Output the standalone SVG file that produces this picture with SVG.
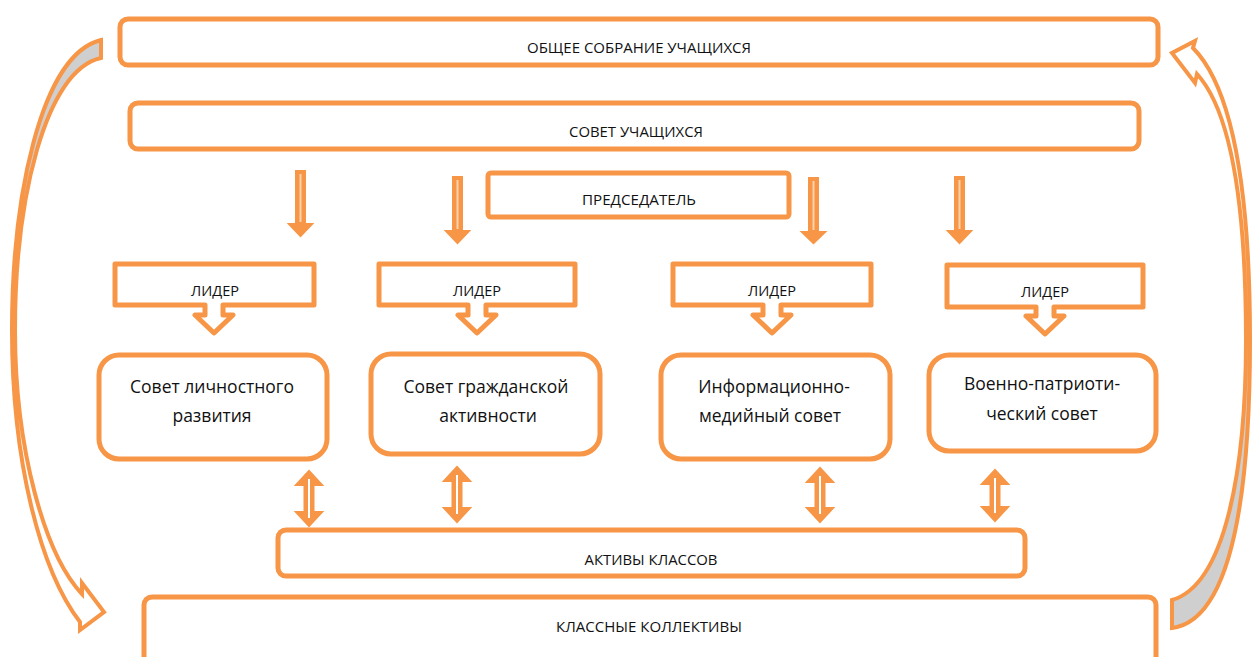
<svg xmlns="http://www.w3.org/2000/svg" width="1255" height="657" viewBox="0 0 1255 657">
<style>
.box{fill:#fff;stroke:#F79646;stroke-width:5;}
.t{font-family:"Open Sans","Noto Sans","DejaVu Sans",sans-serif;font-size:14px;fill:#111;text-anchor:middle;}
.c{font-family:"Open Sans","Noto Sans","DejaVu Sans",sans-serif;font-size:17.5px;fill:#111;text-anchor:middle;}
.arr{fill:#F79646;stroke:#F79646;stroke-width:2;stroke-linejoin:miter;}
.hl{stroke:#FBD3AE;stroke-width:2;}
.wl{stroke:#fff;stroke-width:2;}
.curve{stroke:#F79646;stroke-width:4;stroke-linejoin:miter;}
</style>
<defs>
<linearGradient id="gL" x1="0" y1="0" x2="0" y2="1">
<stop offset="0" stop-color="#CFCFCF"/><stop offset="0.45" stop-color="#CFCFCF"/><stop offset="0.5" stop-color="#fff"/><stop offset="1" stop-color="#fff"/>
</linearGradient>
<linearGradient id="gR" x1="0" y1="0" x2="0" y2="1">
<stop offset="0" stop-color="#fff"/><stop offset="0.5" stop-color="#fff"/><stop offset="0.55" stop-color="#CFCFCF"/><stop offset="1" stop-color="#CFCFCF"/>
</linearGradient>
</defs>

<g id="connectors">
<!-- left curved arrow -->
<path class="curve" fill="url(#gL)" d="M101,40 C40,55 12,200 12,330 C12,460 40,570 80,622 L80,630 L104,612 L82,583 L82,594 C45,555 15,450 15,330 C15,200 45,70 101,58 Z"/>
<!-- right curved arrow -->
<path class="curve" fill="url(#gR)" d="M1172,600 C1225,585 1246,470 1246,340 C1246,200 1230,110 1197,74 L1195,83 L1172,53 L1195,41 L1193,48 C1235,90 1250,200 1250,340 C1250,480 1235,620 1172,628 Z"/>
<!-- down arrows -->
<path class="arr" d="M296,171 H305 V224 H312 L300.5,236 L289,224 H296 Z"/><line class="hl" x1="300.5" y1="174" x2="300.5" y2="222"/>
<path class="arr" d="M453,177 H462 V231 H469 L457.5,243 L446,231 H453 Z"/><line class="hl" x1="457.5" y1="180" x2="457.5" y2="229"/>
<path class="arr" d="M809,178 H818 V232 H825 L813.5,243 L802,232 H809 Z"/><line class="hl" x1="813.5" y1="181" x2="813.5" y2="230"/>
<path class="arr" d="M955,177 H964 V231 H971 L959.5,243 L948,231 H955 Z"/><line class="hl" x1="959.5" y1="180" x2="959.5" y2="229"/>
<!-- double arrows -->
<path class="arr" d="M309,471 L322,485 H313.5 V512 H322 L309,526 L296,512 H304.5 V485 H296 Z"/><line class="wl" x1="309" y1="479" x2="309" y2="518"/>
<path class="arr" d="M457,467 L470,481 H461.5 V508 H470 L457,522 L444,508 H452.5 V481 H444 Z"/><line class="wl" x1="457" y1="475" x2="457" y2="514"/>
<path class="arr" d="M820,468 L833,482 H824.5 V508 H833 L820,522 L807,508 H815.5 V482 H807 Z"/><line class="wl" x1="820" y1="476" x2="820" y2="514"/>
<path class="arr" d="M995,470 L1008,484 H999.5 V507 H1008 L995,521 L982,507 H990.5 V484 H982 Z"/><line class="wl" x1="995" y1="478" x2="995" y2="513"/>
</g>

<g id="obshchee">
<rect class="box" x="120" y="19" width="1038" height="46" rx="8"/>
<text class="t" x="639" y="53" textLength="224" lengthAdjust="spacingAndGlyphs">ОБЩЕЕ СОБРАНИЕ УЧАЩИХСЯ</text>
</g>
<g id="sovet">
<rect class="box" x="130" y="103" width="1009" height="46" rx="8"/>
<text class="t" x="636" y="137" textLength="134" lengthAdjust="spacingAndGlyphs">СОВЕТ УЧАЩИХСЯ</text>
</g>
<g id="predsedatel">
<rect class="box" x="488" y="173" width="301" height="44" rx="3"/>
<text class="t" x="639" y="205" textLength="114" lengthAdjust="spacingAndGlyphs">ПРЕДСЕДАТЕЛЬ</text>
</g>

<g id="lider1">
<path class="box" stroke-linejoin="round" d="M115,264 H314 V305 H223 V315 H233 L214,333 L195,315 H205 V305 H115 Z"/>
<text class="t" x="215" y="296" textLength="48" lengthAdjust="spacingAndGlyphs">ЛИДЕР</text>
</g>
<g id="lider2">
<path class="box" stroke-linejoin="round" d="M379,264 H575 V305 H486 V315 H496 L477,333 L458,315 H468 V305 H379 Z"/>
<text class="t" x="477" y="296" textLength="48" lengthAdjust="spacingAndGlyphs">ЛИДЕР</text>
</g>
<g id="lider3">
<path class="box" stroke-linejoin="round" d="M673,264 H871 V305 H781 V315 H791 L772,333 L753,315 H763 V305 H673 Z"/>
<text class="t" x="772" y="296" textLength="48" lengthAdjust="spacingAndGlyphs">ЛИДЕР</text>
</g>
<g id="lider4">
<path class="box" stroke-linejoin="round" d="M947,265 H1143 V307 H1054 V316 H1064 L1045,334 L1026,316 H1036 V307 H947 Z"/>
<text class="t" x="1045" y="297" textLength="48" lengthAdjust="spacingAndGlyphs">ЛИДЕР</text>
</g>

<g id="council1">
<rect class="box" x="99" y="355" width="228" height="104" rx="20"/>
<text class="c" x="212" y="393">Совет личностного</text>
<text class="c" x="212" y="422">развития</text>
</g>
<g id="council2">
<rect class="box" x="371" y="354" width="229" height="100" rx="20"/>
<text class="c" x="486" y="393">Совет гражданской</text>
<text class="c" x="488" y="422">активности</text>
</g>
<g id="council3">
<rect class="box" x="661" y="355" width="229" height="104" rx="20"/>
<text class="c" x="774" y="393">Информационно-</text>
<text class="c" x="770" y="422">медийный совет</text>
</g>
<g id="council4">
<rect class="box" x="929" y="355" width="227" height="96" rx="20"/>
<text class="c" x="1042" y="390">Военно-патриоти-</text>
<text class="c" x="1042" y="420">ческий совет</text>
</g>

<g id="aktivy">
<rect class="box" x="278" y="530" width="747" height="46" rx="8"/>
<text class="t" x="651" y="565" textLength="133" lengthAdjust="spacingAndGlyphs">АКТИВЫ КЛАССОВ</text>
</g>
<g id="klassnye">
<rect class="box" x="144" y="597" width="1012" height="80" rx="8"/>
<text class="t" x="649" y="632" textLength="186" lengthAdjust="spacingAndGlyphs">КЛАССНЫЕ КОЛЛЕКТИВЫ</text>
</g>
</svg>
